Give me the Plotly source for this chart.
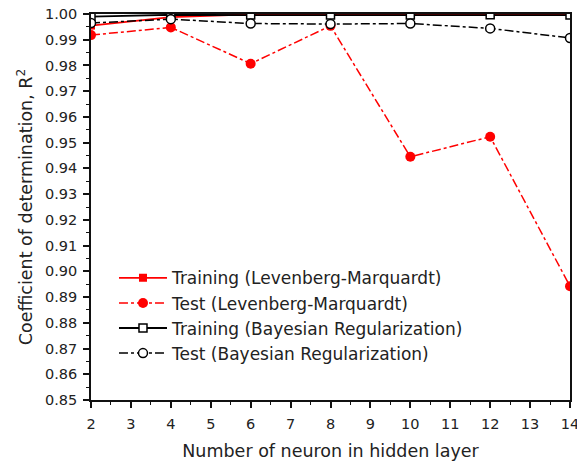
import plotly.graph_objects as go

neurons = [2, 4, 6, 8, 10, 12, 14]
train_lm = [0.9955, 0.9988, 0.9999, 0.9999, 0.9999, 0.9999, 0.9999]
test_lm = [0.9918, 0.9948, 0.9807, 0.9954, 0.9445, 0.9523, 0.8942]
train_br = [0.9990, 0.9997, 0.9996, 0.9996, 0.9996, 0.9997, 0.9996]
test_br = [0.9965, 0.9980, 0.9963, 0.9961, 0.9963, 0.9944, 0.9907]

names = [
    "Training (Levenberg-Marquardt)",
    "Test (Levenberg-Marquardt)",
    "Training (Bayesian Regularization)",
    "Test (Bayesian Regularization)",
]

fig = go.Figure()
fig.add_trace(go.Scatter(
    x=neurons, y=train_lm, name=names[0], mode="lines+markers",
    line=dict(color="red", width=1.8),
    marker=dict(symbol="square", size=8, color="red"),
))
fig.add_trace(go.Scatter(
    x=neurons, y=test_lm, name=names[1], mode="lines+markers",
    line=dict(color="red", width=1.5, dash="dashdot"),
    marker=dict(symbol="circle", size=10, color="red"),
))
fig.add_trace(go.Scatter(
    x=neurons, y=train_br, name=names[2], mode="lines+markers",
    line=dict(color="black", width=1.8),
    marker=dict(symbol="square", size=8, color="white", line=dict(color="black", width=1.5)),
))
fig.add_trace(go.Scatter(
    x=neurons, y=test_br, name=names[3], mode="lines+markers",
    line=dict(color="black", width=1.5, dash="dashdot"),
    marker=dict(symbol="circle", size=9, color="white", line=dict(color="black", width=1.5)),
))

font = "DejaVu Sans, sans-serif"
fig.update_layout(
    width=577, height=465,
    margin=dict(l=91, r=5, t=14, b=65),
    plot_bgcolor="white", paper_bgcolor="white",
    font=dict(family=font, color="#222", size=14.5),
    showlegend=True,
    legend=dict(
        x=0.048, y=0.362, xanchor="left", yanchor="top",
        bgcolor="rgba(0,0,0,0)", font=dict(size=17, color="#222"),
        tracegroupgap=0, itemwidth=48,
    ),
)
fig.update_xaxes(
    range=[2, 14], tickmode="linear", tick0=2, dtick=1,
    showgrid=False, zeroline=False, automargin=False,
    showline=True, linecolor="#111", linewidth=1.6, mirror=True,
    ticks="outside", ticklen=6, tickwidth=1.5, tickcolor="#111",
    minor=dict(dtick=0.5, tick0=2, ticks="outside", ticklen=3, tickwidth=1.2, tickcolor="#111"),
    tickfont=dict(size=14.5), ticklabelstandoff=4, ticklabeloverflow="allow",
    title=dict(text="Number of neuron in hidden layer", font=dict(size=17.5), standoff=14),
)
fig.update_yaxes(
    range=[0.85, 1.0], tickmode="linear", tick0=0.85, dtick=0.01, tickformat=".2f",
    showgrid=False, zeroline=False,
    showline=True, linecolor="#111", linewidth=1.6, mirror=True,
    ticks="outside", ticklen=6, tickwidth=1.5, tickcolor="#111",
    minor=dict(dtick=0.005, tick0=0.85, ticks="outside", ticklen=3, tickwidth=1.2, tickcolor="#111"),
    tickfont=dict(size=14.5), ticklabelstandoff=3, ticklabeloverflow="allow",
    title=dict(text="Coefficient of determination, R<sup>2</sup>", font=dict(size=17.5), standoff=8),
)

fig.write_html("out.html")
